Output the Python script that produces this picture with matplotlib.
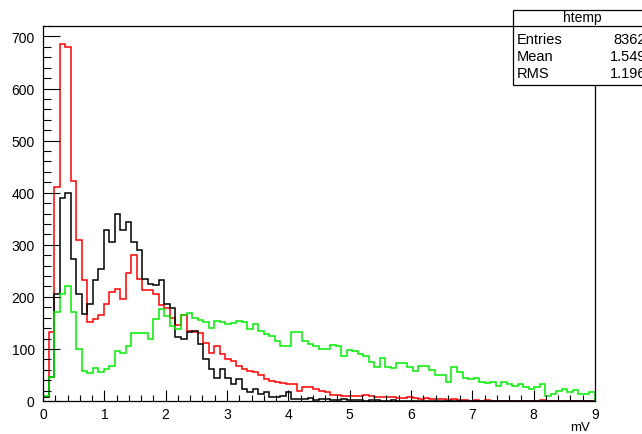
import numpy as np
import matplotlib
matplotlib.use("Agg")
import matplotlib.pyplot as plt
from matplotlib.ticker import MultipleLocator
from matplotlib.patches import Rectangle

plt.rcParams["font.family"] = ["Liberation Sans", "DejaVu Sans"]
plt.rcParams["font.size"] = 10

# 100 bins between 0 and 9 mV (htemp default binning)
x_min, x_max, n_bins = 0.0, 9.0, 100

red = [8, 133, 410, 686, 680, 422, 310, 232, 152, 158,
       165, 186, 210, 216, 196, 245, 280, 234, 214, 214,
       205, 185, 178, 160, 145, 165, 135, 133, 130, 112,
       93, 106, 90, 80, 77, 68, 61, 58, 55, 49,
       42, 39, 36, 35, 33, 33, 20, 26, 26, 23,
       20, 17, 12, 12, 10, 9, 10, 9, 12, 9,
       7, 7, 7, 7, 6, 5, 7, 5, 4, 5,
       3, 4, 3, 2, 3, 2, 1, 0, 2, 0,
       2, 0, 0, 0, 0, 0, 0, 0, 0, 0,
       1, 0, 0, 0, 0, 0, 0, 0, 0, 0]

black = [8, 46, 205, 389, 400, 272, 205, 167, 186, 232,
         254, 328, 305, 360, 328, 344, 306, 290, 234, 224,
         222, 232, 186, 178, 122, 119, 132, 135, 109, 80,
         61, 45, 61, 44, 33, 42, 23, 17, 23, 13,
         17, 7, 7, 9, 17, 4, 4, 3, 5, 2,
         4, 3, 2, 1, 3, 1, 2, 1, 0, 1,
         1, 0, 0, 1, 0, 0, 0, 0, 0, 0,
         0, 0, 0, 0, 0, 0, 0, 0, 0, 0,
         0, 0, 0, 0, 0, 0, 0, 0, 0, 0,
         0, 0, 0, 0, 0, 0, 0, 0, 0, 0]

green = [10, 46, 170, 205, 221, 170, 100, 58, 54, 63,
         55, 61, 68, 96, 93, 106, 130, 130, 130, 119,
         157, 176, 164, 144, 138, 166, 169, 160, 155, 151,
         141, 154, 151, 148, 150, 154, 151, 138, 148, 135,
         128, 125, 116, 106, 106, 132, 132, 116, 109, 106,
         100, 100, 107, 106, 87, 98, 96, 90, 87, 74,
         65, 82, 65, 64, 73, 73, 65, 57, 68, 68,
         60, 50, 49, 37, 65, 55, 45, 42, 44, 37,
         35, 36, 29, 37, 33, 29, 33, 26, 23, 27,
         33, 10, 13, 20, 24, 18, 22, 13, 13, 17]

stats_title = "htemp"
stats_names = ["Entries", "Mean", "RMS"]
stats_values = ["8362", "1.549", "1.196"]

edges = np.linspace(x_min, x_max, n_bins + 1)

W, H = 642, 435
fig = plt.figure(figsize=(W / 100, H / 100), dpi=100)
ax = fig.add_axes([43 / W, (H - 402) / H, 552 / W, 375 / H])

ax.stairs(red, edges, color="#ff0000", lw=1.1, baseline=0)
ax.stairs(black, edges, color="black", lw=1.1, baseline=0)
ax.stairs(green, edges, color="#00ee00", lw=1.1, baseline=0)

ax.set_xlim(x_min, x_max)
ax.set_ylim(0, 720)

ax.xaxis.set_major_locator(MultipleLocator(1))
ax.xaxis.set_minor_locator(MultipleLocator(0.2))
ax.yaxis.set_major_locator(MultipleLocator(100))
ax.yaxis.set_minor_locator(MultipleLocator(20))
ax.tick_params(axis="x", which="major", direction="in", length=8.2, width=0.8, pad=4)
ax.tick_params(axis="x", which="minor", direction="in", length=4.1, width=0.8)
ax.tick_params(axis="y", which="major", direction="in", length=11.9, width=0.8, pad=6)
ax.tick_params(axis="y", which="minor", direction="in", length=6.0, width=0.8)
for s in ax.spines.values():
    s.set_linewidth(0.9)

fig.text(590 / W, 1 - 428 / H, "mV", ha="right", va="center", fontsize=9.5)

# stats box (clipped on the right like the original)
box_top, box_bot, box_left = 11, 86, 513
fig.patches.append(Rectangle((box_left / W, 1 - box_bot / H), (W + 20 - box_left) / W,
                             (box_bot - box_top) / H, transform=fig.transFigure,
                             facecolor="white", edgecolor="black", lw=0.9, zorder=5))
fig.add_artist(plt.Line2D([box_left / W, 1.05], [1 - 27 / H, 1 - 27 / H],
                          transform=fig.transFigure, color="black", lw=0.9, zorder=6))
fig.text(582 / W, 1 - 18 / H, stats_title, ha="center", va="center", fontsize=10, zorder=7)
for i, (n, v) in enumerate(zip(stats_names, stats_values)):
    yy = 1 - (40 + 17 * i) / H
    fig.text(517 / W, yy, n, ha="left", va="center", fontsize=10.5, zorder=7)
    fig.text(646 / W, yy, v, ha="right", va="center", fontsize=10.5, zorder=7)

fig.savefig("out.png", dpi=100)
